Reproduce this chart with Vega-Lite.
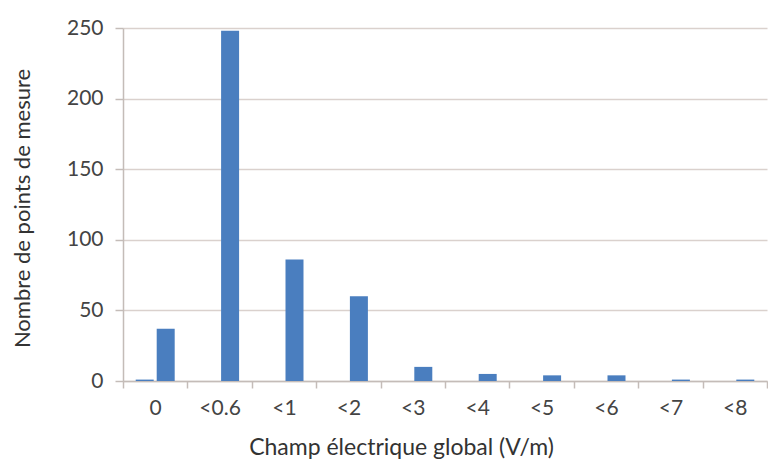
{
  "$schema": "https://vega.github.io/schema/vega-lite/v6.json",
  "width": 644,
  "height": 353,
  "autosize": "none",
  "padding": {"left": 123, "top": 28, "right": 1, "bottom": 82},
  "background": "white",
  "config": {"view": {"stroke": null}, "font": "Lato"},
  "data": {
    "values": [
      {"cat": "0", "series": "A", "count": 1},
      {"cat": "0", "series": "B", "count": 37},
      {"cat": "<0.6", "series": "A", "count": 0},
      {"cat": "<0.6", "series": "B", "count": 248},
      {"cat": "<1", "series": "A", "count": 0},
      {"cat": "<1", "series": "B", "count": 86},
      {"cat": "<2", "series": "A", "count": 0},
      {"cat": "<2", "series": "B", "count": 60},
      {"cat": "<3", "series": "A", "count": 0},
      {"cat": "<3", "series": "B", "count": 10},
      {"cat": "<4", "series": "A", "count": 0},
      {"cat": "<4", "series": "B", "count": 5},
      {"cat": "<5", "series": "A", "count": 0},
      {"cat": "<5", "series": "B", "count": 4},
      {"cat": "<6", "series": "A", "count": 0},
      {"cat": "<6", "series": "B", "count": 4},
      {"cat": "<7", "series": "A", "count": 0},
      {"cat": "<7", "series": "B", "count": 1},
      {"cat": "<8", "series": "A", "count": 0},
      {"cat": "<8", "series": "B", "count": 1}
    ]
  },
  "mark": {"type": "bar", "color": "#4a7ebf"},
  "encoding": {
    "x": {
      "field": "cat",
      "type": "nominal",
      "sort": null,
      "scale": {"paddingInner": 0, "paddingOuter": 0},
      "axis": {
        "title": "Champ électrique global (V/m)",
        "labelAngle": 0,
        "tickBand": "extent",
        "grid": false,
        "domainColor": "#c4bcb8",
        "domainWidth": 1.5,
        "tickColor": "#c4bcb8",
        "tickWidth": 1.5,
        "tickSize": 7,
        "labelPadding": 9,
        "labelFontSize": 21,
        "labelColor": "#444444",
        "titleFontSize": 23,
        "titleFontWeight": "normal",
        "titleColor": "#333333",
        "titleX": 278,
        "titleY": 66,
        "titleAlign": "center",
        "titleBaseline": "middle"
      }
    },
    "xOffset": {
      "field": "series",
      "type": "nominal",
      "scale": {"paddingInner": 0.143, "paddingOuter": 0.605}
    },
    "y": {
      "field": "count",
      "type": "quantitative",
      "scale": {"domain": [0, 250], "nice": false},
      "axis": {
        "title": "Nombre de points de mesure",
        "values": [0, 50, 100, 150, 200, 250],
        "grid": true,
        "gridColor": "#dad1cd",
        "gridWidth": 1.5,
        "domainColor": "#c4bcb8",
        "domainWidth": 1.5,
        "tickColor": "#c4bcb8",
        "tickWidth": 1.5,
        "tickSize": 8,
        "labelPadding": 12,
        "labelFontSize": 21,
        "labelColor": "#444444",
        "titleFontSize": 22,
        "titleFontWeight": "normal",
        "titleColor": "#333333",
        "titleX": -89,
        "titleY": 180,
        "titleAlign": "center"
      }
    }
  }
}
